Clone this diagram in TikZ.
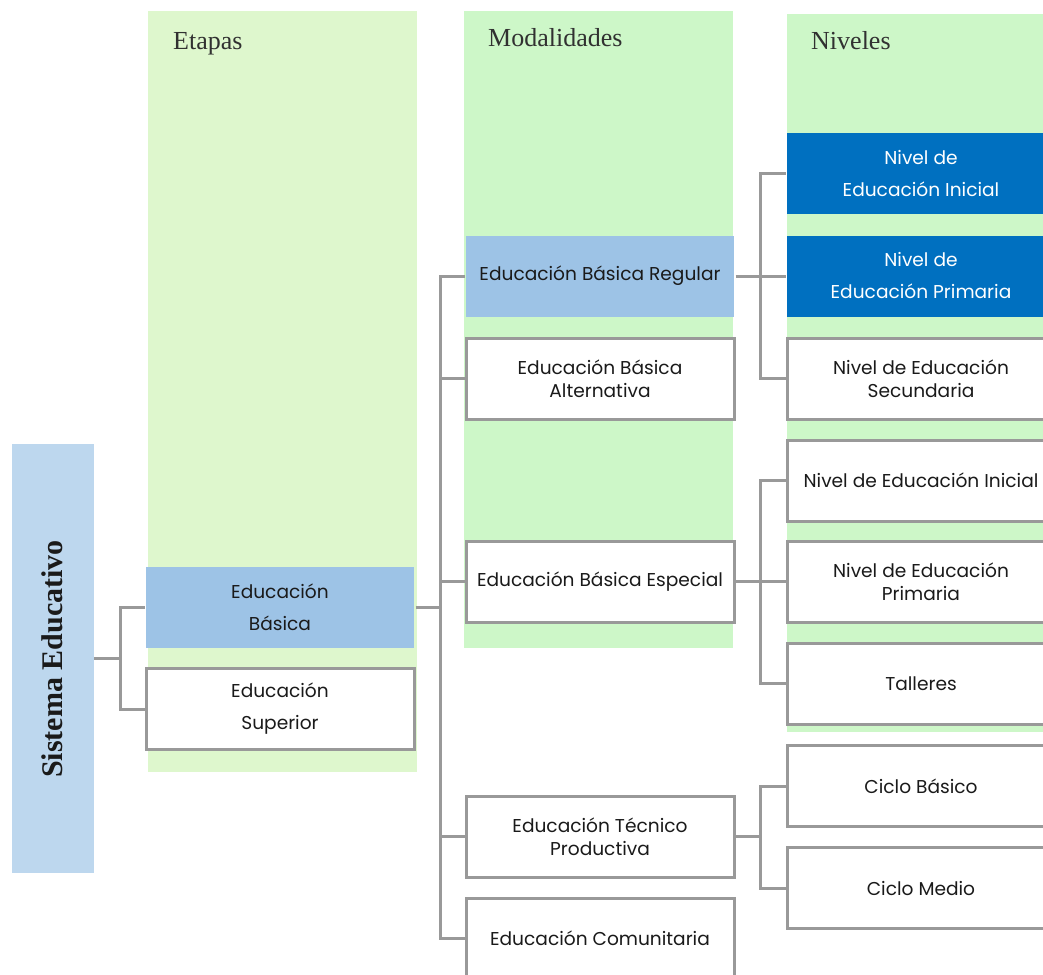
\documentclass[tikz,border=0pt]{standalone}
\usepackage{fontspec}
\setmainfont{Liberation Serif}
\newfontfamily\gothic{Poppins}
\definecolor{colA}{RGB}{222,247,205}
\definecolor{colB}{RGB}{205,247,200}
\definecolor{lblue}{RGB}{189,215,238}
\definecolor{mblue}{RGB}{157,195,230}
\definecolor{dblue}{RGB}{0,112,192}
\definecolor{lgray}{RGB}{153,153,153}
\definecolor{txt}{RGB}{26,26,26}
\tikzset{
  box/.style={draw=lgray, line width=3pt, fill=white, minimum width=268pt, minimum height=81pt,
    inner sep=0pt, align=center, text=txt, font=\gothic\fontsize{18.6}{23}\selectfont},
  boxblue/.style={box, draw=none, fill=mblue},
  boxdark/.style={box, draw=none, fill=dblue, text=white},
  conn/.style={draw=lgray, line width=3pt},
  head/.style={anchor=base west, text=txt!90, font=\fontsize{26}{28}\selectfont, inner sep=0pt}
}
\begin{document}
\begin{tikzpicture}[x=1pt,y=-1pt]
\useasboundingbox (0,0) rectangle (1043,974);
\clip (0,0) rectangle (1043,974);
% green columns
\fill[colA] (148,11) rectangle (417,772);
\fill[colB] (464,11) rectangle (733,648);
\fill[colB] (787,14) rectangle (1043,732);
\node[head] (hEt) at (173,49) {Etapas};
\node[head] (hMo) at (488,47) {Modalidades};
\node[head] (hNi) at (811,50) {Niveles};
% root
\node[fill=lblue, minimum width=82pt, minimum height=429pt, inner sep=0pt] (sis) at (53,658.5) {};
\node[rotate=90, font=\bfseries\fontsize{30}{32}\selectfont, text=txt] (sist) at (52,659) {Sistema Educativo};
% etapas
\node[boxblue] (bas) at (280,607.5) {Educación\\[9pt]Básica};
\node[box] (sup) at (280,709) {Educación\\[9pt]Superior};
% modalidades
\node[boxblue] (reg) at (600,276) {Educación Básica Regular};
\node[box] (alt) at (600,378.5) {Educación Básica\\Alternativa};
\node[box] (esp) at (600,581.5) {Educación Básica Especial};
\node[box] (tec) at (600,836.5) {Educación Técnico\\Productiva};
\node[box] (com) at (600,938.5) {Educación Comunitaria};
% niveles
\node[boxdark] (ini1) at (921,173.5) {Nivel de\\[9pt]Educación Inicial};
\node[boxdark] (pri1) at (921,276) {Nivel de\\[9pt]Educación Primaria};
\node[box] (sec) at (921,378.5) {Nivel de Educación\\Secundaria};
\node[box] (ini2) at (921,480.5) {Nivel de Educación Inicial};
\node[box] (pri2) at (921,581.5) {Nivel de Educación\\Primaria};
\node[box] (tal) at (921,683.5) {Talleres};
\node[box] (cb) at (921,786) {Ciclo Básico};
\node[box] (cm) at (921,888) {Ciclo Medio};
% connectors
\coordinate (j1) at (120,658.5);
\coordinate (j2) at (440,607.5);
\coordinate (j3) at (760,276);
\coordinate (j4) at (760,581.5);
\coordinate (j5) at (760,836.5);
\draw[conn] (sis.east) -- (j1);
\draw[conn] (j1) |- (bas.west);
\draw[conn] (j1) |- (sup.west);
\draw[conn] (bas.east) -- (j2);
\draw[conn] (j2) |- (reg.west);
\draw[conn] (j2) |- (alt.west);
\draw[conn] (j2) |- (esp.west);
\draw[conn] (j2) |- (tec.west);
\draw[conn] (j2) |- (com.west);
\draw[conn] (reg.east) -- (j3);
\draw[conn] (j3) |- (ini1.west);
\draw[conn] (j3) |- (pri1.west);
\draw[conn] (j3) |- (sec.west);
\draw[conn] (esp.east) -- (j4);
\draw[conn] (j4) |- (ini2.west);
\draw[conn] (j4) |- (pri2.west);
\draw[conn] (j4) |- (tal.west);
\draw[conn] (tec.east) -- (j5);
\draw[conn] (j5) |- (cb.west);
\draw[conn] (j5) |- (cm.west);
\end{tikzpicture}
\end{document}
